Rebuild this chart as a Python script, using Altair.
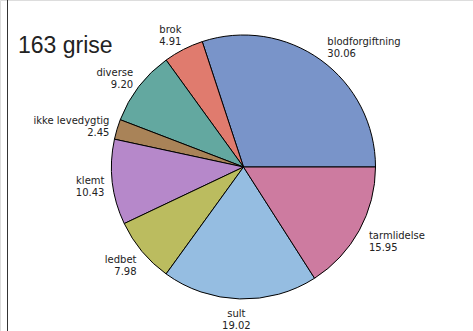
import math

import altair as alt
import pandas as pd

# Causes of death and their share (%), listed counter-clockwise from three o'clock
causes = ["blodforgiftning", "brok", "diverse", "ikke levedygtig", "klemt", "ledbet", "sult", "tarmlidelse"]
shares = [30.06, 4.91, 9.20, 2.45, 10.43, 7.98, 19.02, 15.95]
palette = ["#7994C9", "#E07B6E", "#63A8A0", "#A98358", "#B688CA", "#BBBC5F", "#95BDE1", "#CD7BA0"]
headline = ["163 grise"]

CX, CY, R = 243.5, 167, 132
LABEL_RX, LABEL_RY = 143, 150

df = pd.DataFrame({"cause": causes, "share": shares})
# Vega draws clockwise, so reverse the sequence to get a counter-clockwise pie
df["order"] = list(range(len(causes)))[::-1]
df["label"] = df["cause"] + "\n" + df["share"].map(lambda v: f"{v:.2f}")

# label side from the mid-angle of each slice (counter-clockwise from three o'clock)
total = sum(shares)
cum = 0.0
sides = []
for v in shares:
    mid = (cum + v / 2) / total * 2 * math.pi
    cum += v
    c = math.cos(mid)
    sides.append("left" if c > 0.1 else ("right" if c < -0.1 else "center"))
df["side"] = sides

theta_scale = alt.Scale(domain=[0, total], range=[math.pi / 2, math.pi / 2 + 2 * math.pi])

pie = alt.Chart(df).mark_arc(radius=R, stroke="black", strokeWidth=1).encode(
    theta=alt.Theta("share:Q", stack=True, scale=theta_scale),
    order=alt.Order("order:Q", sort="ascending"),
    x=alt.value(CX),
    y=alt.value(CY),
    color=alt.Color("cause:N", scale=alt.Scale(domain=causes, range=palette), legend=None),
)

# stack once, place each label just outside the middle of its slice
angle = f"(PI / 2 + (datum.s0 + datum.s1) / 2 / {total} * 2 * PI)"
stacked = alt.Chart(df).transform_stack(
    stack="share", groupby=[], as_=["s0", "s1"], sort=[alt.SortField("order", order="ascending")]
).transform_calculate(
    lx=f"{CX} + {LABEL_RX} * sin({angle})",
    ly=f"{CY} - {LABEL_RY} * cos({angle})",
)

nudge = {"left": 0, "right": 3, "center": -3}
labels = []
for side in ["left", "right", "center"]:
    labels.append(
        stacked.transform_filter(alt.datum.side == side)
        .mark_text(align=side, baseline="middle", lineBreak="\n", dx=nudge[side], dy=-3,
                   font="DejaVu Sans", fontSize=10, lineHeight=12, color="#222222")
        .encode(
            x=alt.X("lx:Q", scale=None, axis=None),
            y=alt.Y("ly:Q", scale=None, axis=None),
            text="label:N",
        )
    )

title = alt.Chart(pd.DataFrame({"t": headline})).mark_text(
    align="left", baseline="alphabetic", font="Liberation Sans", fontSize=23, color="#222222"
).encode(x=alt.value(18), y=alt.value(53), text="t:N")

frame = alt.Chart(pd.DataFrame({"t": headline})).mark_rule(color="#333333", strokeWidth=1).encode(
    x=alt.value(7.5), y=alt.value(0), y2=alt.value(331)
)

chart = alt.layer(pie, *labels, title, frame).properties(
    width=473, height=331, padding=0, autosize="none"
).configure_view(stroke=None).configure(background="white")

chart.save("out.html", embed_options={"renderer": "svg", "actions": False})
